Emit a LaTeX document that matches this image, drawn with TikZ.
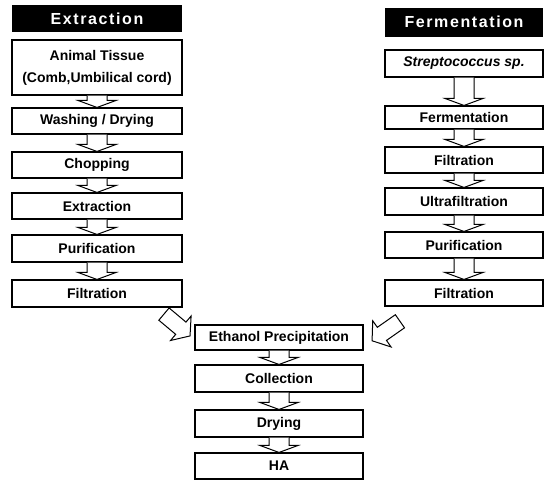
\documentclass[tikz,border=0pt]{standalone}
\usepackage{fontspec}
\setmainfont{Liberation Sans}
\usetikzlibrary{calc}
\tikzset{
 box/.style={draw, line width=1.1pt, fill=white, minimum height=26pt, inner sep=0pt,
   font=\bfseries\fontsize{14}{22}\selectfont, align=center},
 lbox/.style={box, minimum width=170pt},
 rbox/.style={box, minimum width=158pt},
 cbox/.style={box, minimum width=168pt},
 hdr/.style={fill=black, text=white, inner sep=0pt,
   font=\bfseries\fontsize{16}{18}\selectfont\addfontfeature{LetterSpace=10}},
 blk/.style={draw, line width=1pt, fill=white, line join=miter}
}
\newcommand\blkarrow[2]{%
 \draw[blk] let \p1=(#1.south), \p2=(#2.north) in
   (\x1-10pt,\y1) -- (\x1-10pt,\y2+7pt) -- (\x1-19pt,\y2+7pt) -- (\x1,\y2)
   -- (\x1+19pt,\y2+7pt) -- (\x1+10pt,\y2+7pt) -- (\x1+10pt,\y1);}
\newcommand\diagarrow{%
 \draw[blk] (-17,-8) -- (5,-8) -- (5,-16) -- (17,0) -- (5,16) -- (5,8) -- (-17,8) -- cycle;}
\begin{document}
\begin{tikzpicture}[x=1pt,y=-1pt]
\useasboundingbox (0,0) rectangle (545,480);
% headers
\node[hdr, minimum width=170pt, minimum height=27pt] (hdrL) at (97,18.5) {Extraction};
\node[hdr, minimum width=158pt, minimum height=29pt] (hdrR) at (464,22) {Fermentation};
% left column
\node[lbox, minimum height=55pt] (animal) at (97,67.5) {Animal Tissue\\(Comb,Umbilical cord)};
\node[lbox] (wash) at (97,121) {Washing / Drying};
\node[lbox] (chop) at (97,165) {Chopping};
\node[lbox] (extr) at (97,206) {Extraction};
\node[lbox, minimum height=27pt] (purL) at (97,248.5) {Purification};
\node[lbox, minimum height=27pt] (filL) at (97,293.5) {Filtration};
% right column
\node[rbox, minimum height=27pt] (strep) at (464,63.5) {\textit{Streptococcus sp.}};
\node[rbox, minimum height=23pt] (ferm) at (464,117.5) {Fermentation};
\node[rbox] (filR1) at (464,160) {Filtration};
\node[rbox, minimum height=27pt] (ultra) at (464,201.5) {Ultrafiltration};
\node[rbox] (purR) at (464,245) {Purification};
\node[rbox] (filR2) at (464,293) {Filtration};
% center column
\node[cbox, minimum height=25pt] (eth) at (279,337.5) {Ethanol Precipitation};
\node[cbox, minimum height=27pt] (coll) at (279,378.5) {Collection};
\node[cbox, minimum height=27pt] (dry) at (279,423.5) {Drying};
\node[cbox] (ha) at (279,466) {HA};
% down arrows
\blkarrow{animal}{wash}
\blkarrow{wash}{chop}
\blkarrow{chop}{extr}
\blkarrow{extr}{purL}
\blkarrow{purL}{filL}
\blkarrow{strep}{ferm}
\blkarrow{ferm}{filR1}
\blkarrow{filR1}{ultra}
\blkarrow{ultra}{purR}
\blkarrow{purR}{filR2}
\blkarrow{eth}{coll}
\blkarrow{coll}{dry}
\blkarrow{dry}{ha}
% diagonal arrows
\begin{scope}[shift={(177,325)}, rotate=-40]\diagarrow\end{scope}
\begin{scope}[shift={(386,331)}, rotate=-145]\diagarrow\end{scope}
\end{tikzpicture}
\end{document}
